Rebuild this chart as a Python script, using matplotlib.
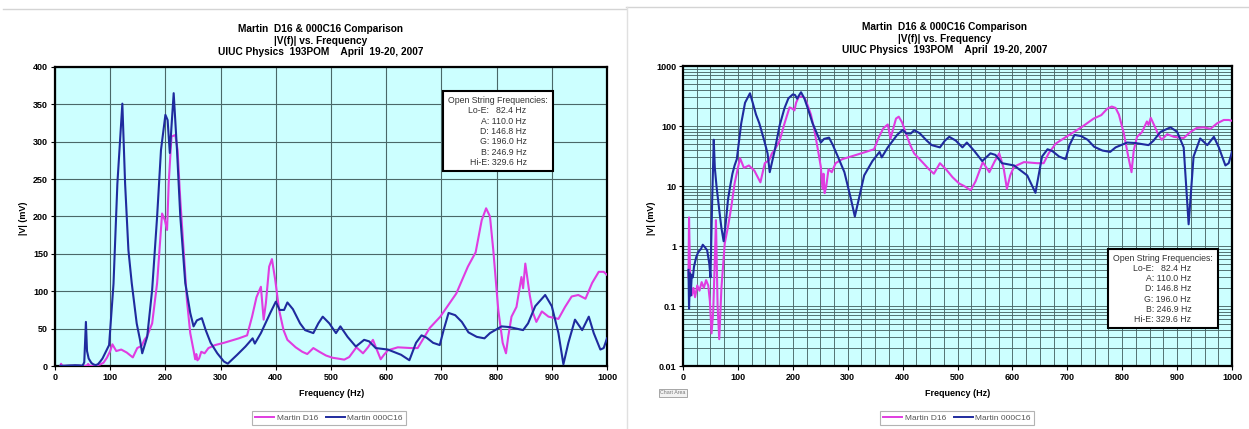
import matplotlib
matplotlib.use("Agg")
import matplotlib.pyplot as plt
from matplotlib.lines import Line2D
from matplotlib.patches import Rectangle
from matplotlib.ticker import MultipleLocator, FixedLocator, NullFormatter

plt.rcParams['font.family'] = ['Liberation Sans', 'DejaVu Sans']

# ---- data (Hz, mV) ----
d16_freq = [10, 11, 13, 16, 19, 22, 26, 30, 34, 38, 42, 46, 49, 52, 55, 58, 60, 63, 66, 70,
            76, 82, 88, 94, 100, 104, 111, 120, 130, 141, 149, 157, 162, 167, 176, 185, 194,
            199, 203, 206, 211, 218, 222, 227, 233, 239, 245, 251, 254, 256, 258, 261, 265,
            271, 278, 290, 306, 333, 348, 357, 365, 373, 378, 382, 388, 393, 399, 406, 414,
            421, 436, 448, 457, 468, 479, 491, 503, 512, 524, 533, 546, 558, 567, 576, 584,
            590, 596, 603, 621, 645, 657, 666, 679, 698, 727, 748, 762, 773, 781, 788, 794,
            803, 811, 817, 821, 827, 836, 845, 848, 852, 860, 866, 872, 882, 894, 912, 924,
            936, 948, 961, 973, 985, 994, 1000]
d16_mv = [0.3, 3.0, 0.3, 0.15, 0.2, 0.14, 0.22, 0.18, 0.25, 0.2, 0.27, 0.22, 0.12, 0.035, 0.08,
          0.6, 2.7, 0.1, 0.028, 0.2, 1.1, 2.1, 4.5, 11, 20, 29, 20, 22, 18, 11.5, 24, 27, 35,
          40, 57, 111, 204, 195, 182, 245, 307, 309, 289, 222, 155, 88, 44, 21, 9, 16, 7.6,
          10, 19, 17, 24, 28, 31, 37, 41, 66, 92, 106, 62, 84, 133, 143, 115, 75, 48, 35, 25,
          19, 16, 24, 19, 14, 11, 10, 8.5, 12, 25, 17, 25, 35, 20, 9, 15, 21, 25, 24, 24, 35,
          51, 66, 97, 133, 152, 195, 211, 200, 155, 75, 31, 17, 39, 66, 79, 119, 104, 137, 95,
          71, 59, 73, 66, 63, 79, 93, 95, 90, 111, 126, 126, 122]

c16_freq = [10, 11, 13, 14, 16, 18, 20, 24, 28, 33, 36, 40, 44, 48, 50, 53, 56, 58, 61, 66,
            70, 74, 78, 82, 86, 90, 94, 98, 106, 113, 122, 127, 133, 139, 148, 154, 158, 167,
            176, 185, 192, 200, 204, 208, 211, 215, 221, 227, 236, 245, 251, 257, 266, 273,
            282, 294, 306, 313, 330, 345, 358, 362, 373, 390, 400, 407, 415, 421, 431, 444,
            453, 468, 477, 485, 497, 509, 517, 530, 545, 560, 569, 581, 603, 627, 642, 654,
            664, 673, 685, 697, 704, 713, 725, 737, 749, 764, 778, 788, 809, 824, 848, 857,
            870, 888, 900, 912, 921, 930, 942, 955, 967, 976, 988, 994, 1000]
c16_mv = [0.4, 0.09, 0.35, 0.15, 0.33, 0.3, 0.45, 0.65, 0.8, 0.9, 1.05, 0.95, 0.85, 0.5, 0.3,
          5, 59, 20, 10, 4, 2, 1.2, 2.5, 6, 10, 16, 22, 28, 110, 244, 351, 244, 155, 111, 57,
          35, 17, 39, 102, 200, 289, 336, 329, 285, 320, 365, 289, 200, 111, 71, 53, 61, 64,
          48, 31, 17, 6, 3.1, 15, 26, 37, 30, 44, 71, 86, 75, 75, 85, 76, 57, 48, 44, 57, 66,
          57, 44, 53, 39, 26, 35, 33, 24, 22, 15, 7.7, 31, 41, 38, 31, 28, 48, 71, 68, 59, 45,
          39, 37, 44, 53, 52, 48, 57, 80, 95, 80, 44, 2.3, 31, 62, 48, 66, 44, 22, 24, 37]

string_names = ['Lo-E', 'A', 'D', 'G', 'B', 'Hi-E']
string_freqs = [82.4, 110.0, 146.8, 196.0, 246.9, 329.6]

title_lines = "Martin  D16 & 000C16 Comparison\n|V(f)| vs. Frequency\nUIUC Physics  193POM    April  19-20, 2007"

# ---- layout ----
W, H = 1249, 429
PINK = '#e03ce0'
NAVY = '#1f2b9e'
BG = '#ccffff'
GRID = '#4a6868'

fig = plt.figure(figsize=(W / 100, H / 100), dpi=100, facecolor='white')

def px(x, y):
    return x / W, 1 - y / H

# page decorations (top rules and panel divider)
fig.add_artist(Line2D([3 / W, 626 / W], [1 - 9 / H, 1 - 9 / H], color='#d4d4d4', lw=1))
fig.add_artist(Line2D([626 / W, 1], [1 - 7 / H, 1 - 7 / H], color='#d4d4d4', lw=1))
fig.add_artist(Line2D([627 / W, 627 / W], [0, 1 - 7 / H], color='#e0e0e0', lw=1))

ax1 = fig.add_axes([55 / W, 1 - 366 / H, 552 / W, 299 / H])
ax2 = fig.add_axes([683 / W, 1 - 366 / H, 549 / W, 300 / H])

for ax in (ax1, ax2):
    ax.set_facecolor(BG)
    ax.plot(d16_freq, d16_mv, color=PINK, lw=1.5, label='Martin D16', zorder=3)
    ax.plot(c16_freq, c16_mv, color=NAVY, lw=1.5, label='Martin 000C16', zorder=3)
    ax.set_xlim(0, 1000)
    ax.xaxis.set_major_locator(MultipleLocator(100))
    for s in ax.spines.values():
        s.set_linewidth(1.6)
        s.set_color('black')
    ax.tick_params(which='major', labelsize=6.5, length=3, width=0.8, pad=2)
    ax.tick_params(which='minor', length=0)
    for lab in ax.get_xticklabels() + ax.get_yticklabels():
        lab.set_fontweight('bold')
    ax.set_axisbelow(True)

# linear panel
ax1.set_ylim(0, 400)
ax1.yaxis.set_major_locator(MultipleLocator(50))
ax1.grid(True, which='major', color=GRID, lw=0.8)

# log panel
ax2.set_yscale('log')
ax2.set_ylim(0.01, 1000)
ax2.yaxis.set_major_locator(FixedLocator([0.01, 0.1, 1, 10, 100, 1000]))
ax2.set_yticklabels(['0.01', '0.1', '1', '10', '100', '1000'], fontweight='bold')
minor_y = [m * 10.0 ** e for e in range(-2, 3) for m in range(2, 10)]
ax2.yaxis.set_minor_locator(FixedLocator(minor_y))
ax2.yaxis.set_minor_formatter(NullFormatter())
ax2.xaxis.set_minor_locator(MultipleLocator(25))
ax2.grid(True, which='both', color=GRID, lw=0.65)

# titles and axis labels
for cx, ty, ax, ylx in ((321, 29, ax1, 24), (945, 27, ax2, 651)):
    fig.text(*px(cx, ty - 5), title_lines, ha='center', va='top', fontsize=7.3,
             fontweight='bold', linespacing=1.2)
    fig.text(*px(ylx, 218), '|V| (mV)', rotation=90, ha='center', va='center',
             fontsize=6.5, fontweight='bold')
for cx in (332, 958):
    fig.text(*px(cx, 394), 'Frequency (Hz)', ha='center', va='center',
             fontsize=6.5, fontweight='bold')

# legends
handles = [Line2D([], [], color=PINK, lw=1.4), Line2D([], [], color=NAVY, lw=1.4)]
labels = ['Martin D16', 'Martin 000C16']
for cx in (329, 957):
    leg = fig.legend(handles, labels, loc='center', bbox_to_anchor=px(cx, 418), ncol=2,
                     fontsize=6, frameon=True, fancybox=False, edgecolor='#a0a0a0',
                     handlelength=2.3, handletextpad=0.3, columnspacing=0.9,
                     borderpad=0.35, labelcolor='#555555')
    leg.get_frame().set_linewidth(0.8)

# "Chart Area" tooltip
fig.text(*px(673, 393), 'Chart Area', ha='center', va='center', fontsize=3.8, color='#777777',
         bbox=dict(boxstyle='square,pad=0.3', fc='#f2f2f2', ec='#999999', lw=0.6))

# open string frequency boxes
info_lines = [f"{n}:{'   ' if n == 'Lo-E' else ' '}{f:.1f} Hz" for n, f in zip(string_names, string_freqs)]
for ax, (bx, by, bw, bh) in ((ax1, (0.703, 0.652, 0.199, 0.268)), (ax2, (0.774, 0.127, 0.200, 0.263))):
    ax.add_patch(Rectangle((bx, by), bw, bh, transform=ax.transAxes, fc='white',
                           ec='black', lw=1.5, zorder=5))
    step = bh / 7.8
    ax.text(bx + bw / 2, by + bh - step * 0.95, 'Open String Frequencies:', transform=ax.transAxes,
            ha='center', va='center', fontsize=6.3, color='#333333', zorder=6)
    for i, line in enumerate(info_lines):
        ax.text(bx + bw * 0.76, by + bh - step * (1.95 + i), line, transform=ax.transAxes,
                ha='right', va='center', fontsize=6.3, color='#333333', zorder=6)

fig.savefig('out.png', dpi=100, facecolor='white')
